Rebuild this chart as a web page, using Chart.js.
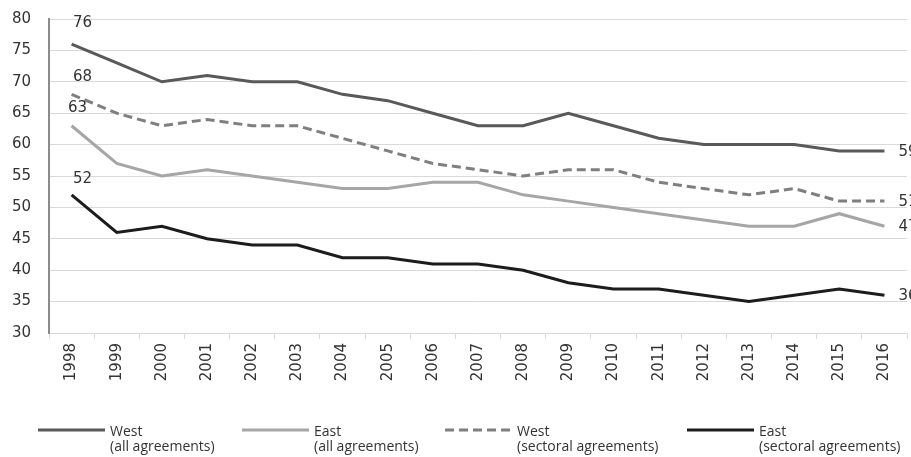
<!DOCTYPE html>
<html>
<head>
<meta charset="utf-8">
<script src="https://cdn.jsdelivr.net/npm/chart.js@4/dist/chart.umd.min.js"></script>
<style>
  html, body { margin: 0; padding: 0; background: #fff; }
  #wrap { width: 911px; height: 457px; position: relative; }
</style>
</head>
<body>
<div id="wrap"><canvas id="coverage"></canvas></div>
<script>
const years = ['1998','1999','2000','2001','2002','2003','2004','2005','2006','2007','2008','2009','2010','2011','2012','2013','2014','2015','2016'];
const westAll = [76,73,70,71,70,70,68,67,65,63,63,65,63,61,60,60,60,59,59];
const eastAll = [63,57,55,56,55,54,53,53,54,54,52,51,50,49,48,47,47,49,47];
const westSectoral = [68,65,63,64,63,63,61,59,57,56,55,56,56,54,53,52,53,51,51];
const eastSectoral = [52,46,47,45,44,44,42,42,41,41,40,38,37,37,36,35,36,37,36];
const seriesNames = [['West', '(all agreements)'], ['East', '(all agreements)'], ['West', '(sectoral agreements)'], ['East', '(sectoral agreements)']];
const yTicks = [30,35,40,45,50,55,60,65,70,75,80];

const tickFont = { family: 'DejaVu Sans', size: 15 };

// start/end value labels + two-line legend, drawn on the canvas
const labelsPlugin = {
  id: 'labels',
  afterDatasetsDraw(chart) {
    const ctx = chart.ctx;
    ctx.save();
    ctx.fillStyle = '#333';
    ctx.font = '15px "DejaVu Sans"';
    ctx.textBaseline = 'middle';
    const firstOff = [[11, -21], [6, -18], [11, -17], [11, -16]];
    chart.data.datasets.forEach((ds, i) => {
      const meta = chart.getDatasetMeta(i);
      const p0 = meta.data[0];
      ctx.textAlign = 'center';
      ctx.fillText(ds.data[0], p0.x + firstOff[i][0], p0.y + firstOff[i][1]);
      const pn = meta.data[meta.data.length - 1];
      ctx.textAlign = 'left';
      ctx.fillText(ds.data[ds.data.length - 1], pn.x + 14, pn.y + 1);
    });

    // legend: line sample, then two text lines
    const legX = [38, 242, 445, 687];
    ctx.font = '14px "Open Sans"';
    ctx.textAlign = 'left';
    chart.data.datasets.forEach((ds, i) => {
      const x = legX[i];
      ctx.beginPath();
      ctx.strokeStyle = ds.borderColor;
      ctx.lineWidth = 3;
      ctx.setLineDash(ds.borderDash || []);
      ctx.moveTo(x, 430);
      ctx.lineTo(x + 67, 430);
      ctx.stroke();
      ctx.setLineDash([]);
      ctx.fillStyle = '#333';
      ctx.fillText(seriesNames[i][0], x + 72, 432);
      ctx.fillText(seriesNames[i][1], x + 72, 447);
    });
    ctx.restore();
  }
};

function line(label, data, color, dash) {
  return {
    label: label,
    data: data,
    borderColor: color,
    backgroundColor: color,
    borderWidth: 3,
    borderDash: dash,
    pointRadius: 0,
    tension: 0,
    fill: false
  };
}

new Chart(document.getElementById('coverage'), {
  type: 'line',
  data: {
    labels: years,
    datasets: [
      line('West (all agreements)', westAll, '#595959'),
      line('East (all agreements)', eastAll, '#a6a6a6'),
      line('West (sectoral agreements)', westSectoral, '#7f7f7f', [9, 5]),
      line('East (sectoral agreements)', eastSectoral, '#1c1c1c')
    ]
  },
  options: {
    responsive: true,
    maintainAspectRatio: false,
    animation: false,
    layout: { padding: { left: 0, top: 19, right: 4, bottom: 0 } },
    plugins: { legend: { display: false }, tooltip: { enabled: false } },
    scales: {
      x: {
        offset: true,
        grid: { offset: true, drawOnChartArea: false, drawTicks: true, tickLength: 6, color: '#d9d9d9' },
        border: { color: '#d9d9d9', width: 1 },
        ticks: { font: tickFont, color: '#333', maxRotation: 90, minRotation: 90, padding: 4, autoSkip: false },
        afterFit(scale) { scale.height = 124; scale.paddingLeft = 0; scale.paddingRight = 0; }
      },
      y: {
        min: 30,
        max: 80,
        afterBuildTicks(scale) { scale.ticks = yTicks.map(v => ({ value: v })); },
        grid: { color: '#d9d9d9', drawTicks: false },
        border: { color: '#8c8c8c', width: 2 },
        ticks: { font: tickFont, color: '#333', padding: 18 },
        afterFit(scale) { scale.width = 49; scale.paddingTop = 0; scale.paddingBottom = 0; }
      }
    }
  },
  plugins: [labelsPlugin]
});
</script>
</body>
</html>
